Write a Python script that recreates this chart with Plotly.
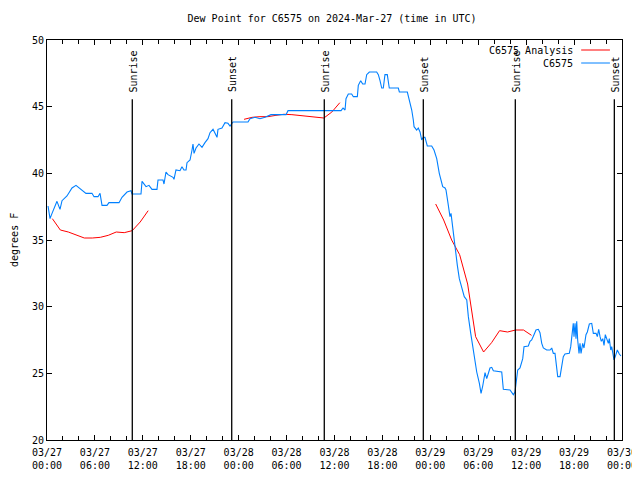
import pandas as pd
import plotly.graph_objects as go

BASE = pd.Timestamp("2024-03-27 00:00")

# Observations (hours after 03/27 00:00 UTC, dew point degF)
obs_hours = [0.13, 0.38, 0.63, 1.25, 1.63, 1.88, 2.50, 3.13, 3.63, 4.26, 4.88, 5.63, 5.89, 6.39, 6.64, 6.89,
             7.51, 7.76, 9.02, 9.39, 10.02, 10.52, 10.64, 11.77, 11.90, 12.40, 12.77, 13.15, 13.77, 13.90,
             14.53, 14.65, 14.90, 15.15, 15.78, 15.90, 16.15, 16.65, 16.90, 17.15, 17.41, 17.53, 17.91,
             18.16, 18.28, 18.41, 18.66, 19.03, 19.41, 19.78, 20.16, 20.41, 20.79, 21.04, 21.29, 21.41,
             21.91, 22.29, 22.66, 22.92, 23.29, 25.17, 25.42, 26.05, 26.67, 27.30, 27.67, 28.05, 29.93,
             30.18, 36.82, 37.07, 37.32, 37.44, 37.73, 38.15, 38.36, 38.86, 38.98, 39.28, 39.53, 39.82,
             40.03, 40.36, 41.28, 41.49, 41.70, 41.91, 42.11, 42.32, 42.61, 42.86, 43.99, 44.12, 45.12,
             45.33, 45.54, 45.67, 45.87, 45.96, 46.29, 46.49, 46.71, 46.92, 47.12, 47.33, 47.62, 48.17,
             48.46, 48.80, 49.12, 49.55, 49.84, 49.96, 50.18, 50.34, 50.46, 50.59, 50.68, 50.80, 50.93,
             51.18, 51.38, 51.63, 51.93, 52.25, 52.56, 52.76, 53.06, 53.31, 53.60, 53.81, 54.14, 54.35,
             54.56, 54.85, 55.06, 55.26, 55.47, 55.69, 55.89, 56.94, 57.14, 57.98, 58.19, 58.39, 58.60,
             58.73, 58.94, 59.23, 59.57, 59.73, 60.27, 60.48, 60.69, 60.98, 61.23, 61.52, 61.73, 61.95,
             62.15, 62.57, 62.99, 63.20, 63.40, 63.61, 63.82, 63.95, 64.24, 64.45, 64.65, 64.86, 65.40,
             65.58, 65.70, 65.83, 65.90, 65.99, 66.12, 66.24, 66.33, 66.45, 66.62, 66.74, 66.87, 67.08,
             67.24, 67.49, 67.66, 67.91, 68.21, 68.41, 68.75, 68.91, 69.08, 69.25, 69.41, 69.59, 69.75,
             69.91, 70.09, 70.29, 70.41, 70.59, 70.71, 70.84, 71.00, 71.16, 71.41, 71.66, 71.87]
obs_values = [37.55, 36.6, 37.0, 37.9, 37.3, 37.95, 38.3, 38.9, 39.1, 38.8, 38.5, 38.5, 38.25, 38.25, 38.5, 37.6,
              37.6, 37.8, 37.8, 38.2, 38.6, 38.7, 38.45, 38.45, 39.4, 39.0, 39.1, 38.8, 38.8, 39.5,
              39.5, 39.2, 40.1, 39.9, 39.7, 39.55, 40.25, 40.2, 40.5, 40.25, 40.25, 40.8, 41.0,
              41.75, 42.2, 41.5, 41.9, 42.2, 41.95, 42.3, 42.6, 43.05, 43.3, 43.0, 42.7, 43.3,
              43.4, 43.8, 43.75, 43.55, 43.85, 43.85, 44.1, 44.2, 44.1, 44.2, 44.3, 44.4, 44.4,
              44.7, 44.7, 44.9, 44.75, 45.6, 45.95, 45.95, 45.75, 45.75, 46.6, 46.95, 46.7, 46.7,
              47.4, 47.6, 47.6, 47.4, 46.95, 46.4, 46.4, 47.4, 47.4, 46.4, 46.4, 46.1, 46.1,
              45.6, 45.25, 44.75, 44.0, 43.5, 43.25, 43.4, 43.1, 42.5, 42.7, 42.7, 42.05, 42.05,
              41.75, 41.1, 40.0, 39.0, 38.9, 38.75, 37.9, 37.0, 36.75, 37.0, 36.55, 35.75, 34.9,
              33.9, 33.1, 32.1, 31.5, 30.75, 30.5, 29.25, 28.0, 27.0, 25.9, 25.1, 24.25, 23.5,
              24.05, 25.05, 24.6, 25.1, 25.4, 25.45, 25.2, 25.1, 23.8, 23.75, 23.6, 23.4, 23.6,
              24.25, 25.25, 25.4, 26.1, 27.0, 27.05, 27.4, 27.5, 27.9, 28.25, 28.3, 28.05, 27.25,
              26.9, 26.75, 26.75, 26.9, 26.5, 26.5, 25.25, 24.75, 24.75, 25.5, 26.25, 26.45, 26.5,
              27.0, 27.6, 28.35, 28.75, 27.75, 28.75, 27.6, 28.9, 27.5, 26.5, 27.25, 26.5, 27.25,
              26.9, 27.9, 28.1, 28.7, 28.75, 28.0, 28.0, 27.75, 28.3, 27.75, 27.4, 27.6, 27.1,
              27.9, 27.6, 27.25, 27.6, 26.75, 27.0, 26.4, 26.0, 26.25, 26.75, 26.45, 26.3]

# Analysis segments (hourly)
ana1_hours = [0.67 + k for k in range(13)]
ana1_values = [36.6, 35.75, 35.6, 35.4, 35.15, 35.15, 35.2, 35.35, 35.6, 35.55, 35.7, 36.35, 37.2]
ana2_hours = [24.67 + k for k in range(13)]
ana2_values = [44.05, 44.2, 44.25, 44.25, 44.35, 44.43, 44.4, 44.35, 44.25, 44.25, 44.15, 44.6, 45.3]
ana3_hours = [48.67 + k for k in range(13)]
ana3_values = [37.7, 36.5, 35.0, 33.9, 31.7, 27.75, 26.6, 27.3, 28.2, 28.1, 28.25, 28.25, 27.85]

# Sun events (hours after start)
sun_hours = [10.68, 23.13, 34.72, 47.12, 58.64, 71.04]
sun_labels = ["Sunrise", "Sunset", "Sunrise", "Sunset", "Sunrise", "Sunset"]

series_names = ["C6575 Analysis", "C6575"]
title_text = "Dew Point for C6575 on 2024-Mar-27 (time in UTC)"
y_title = "degrees F"


def to_time(hours):
    return [BASE + pd.Timedelta(hours=h) for h in hours]


ana_x = to_time(ana1_hours) + [None] + to_time(ana2_hours) + [None] + to_time(ana3_hours)
ana_y = ana1_values + [None] + ana2_values + [None] + ana3_values

FONT = "DejaVu Sans Mono"
RED = "#ff0000"
BLUE = "#0080ff"

fig = go.Figure()
fig.add_trace(go.Scatter(x=ana_x, y=ana_y, mode="lines", name=series_names[0],
                         line=dict(color=RED, width=1), connectgaps=False, showlegend=False))
fig.add_trace(go.Scatter(x=to_time(obs_hours), y=obs_values, mode="lines", name=series_names[1],
                         line=dict(color=BLUE, width=1.1), showlegend=False))

shapes = []
annotations = []
for h, lab in zip(sun_hours, sun_labels):
    t = BASE + pd.Timedelta(hours=h)
    shapes.append(dict(type="line", xref="x", yref="y", x0=t, x1=t, y0=20, y1=45.55,
                       line=dict(color="black", width=1.3)))
    annotations.append(dict(x=t, y=45.93, xref="x", yref="y", text=lab, textangle=-90,
                            showarrow=False, xanchor="center", yanchor="bottom", xshift=1,
                            font=dict(family=FONT, size=10, color="black")))

# legend (gnuplot style: text right-aligned, sample to the right)
leg_y = [0.975, 0.9425]
leg_colors = [RED, BLUE]
for name, yy, col in zip(series_names, leg_y, leg_colors):
    annotations.append(dict(x=0.918, y=yy, xref="paper", yref="paper", text=name,
                            showarrow=False, xanchor="right", yanchor="middle",
                            font=dict(family=FONT, size=10, color="black")))
    shapes.append(dict(type="line", xref="paper", yref="paper", x0=0.929, x1=0.979,
                       y0=yy, y1=yy, line=dict(color=col, width=1)))

annotations.append(dict(x=-0.0574, y=0.5, xref="paper", yref="paper", text=y_title,
                        textangle=-90, showarrow=False, xanchor="center", yanchor="middle",
                        font=dict(family=FONT, size=10, color="black")))

# page body adds an 8px offset; size the figure so the plot area lands at x 47-622, y 40-440
fig.update_layout(
    width=632, height=464,
    margin=dict(l=39, r=18, t=32, b=32, autoexpand=False),
    paper_bgcolor="white", plot_bgcolor="white",
    font=dict(family=FONT, size=10, color="black"),
    title=dict(text=title_text, xref="container", x=0.5127, xanchor="center",
               yref="container", y=0.9763, yanchor="middle",
               font=dict(family=FONT, size=10, color="black")),
    shapes=shapes, annotations=annotations,
    showlegend=False,
)
fig.update_xaxes(
    type="date",
    range=[BASE, BASE + pd.Timedelta(hours=72)],
    dtick=6 * 3600000, tick0=BASE,
    tickformat="%m/%d<br>%H:%M",
    ticks="inside", ticklen=5, tickcolor="black",
    minor=dict(dtick=2 * 3600000, ticks="inside", ticklen=4, tickcolor="black", showgrid=False),
    showline=True, linecolor="black", linewidth=1, mirror="allticks",
    showgrid=False, zeroline=False, automargin=False, ticklabelstandoff=3,
    ticklabeloverflow="allow",
    tickfont=dict(family=FONT, size=10, color="black"),
)
fig.update_yaxes(
    range=[20, 50], dtick=5, tick0=20,
    ticks="inside", ticklen=5, tickcolor="black",
    showline=True, linecolor="black", linewidth=1, mirror="allticks",
    showgrid=False, zeroline=False, automargin=False,
    tickfont=dict(family=FONT, size=10, color="black"),
)

fig.write_html("out.html")
